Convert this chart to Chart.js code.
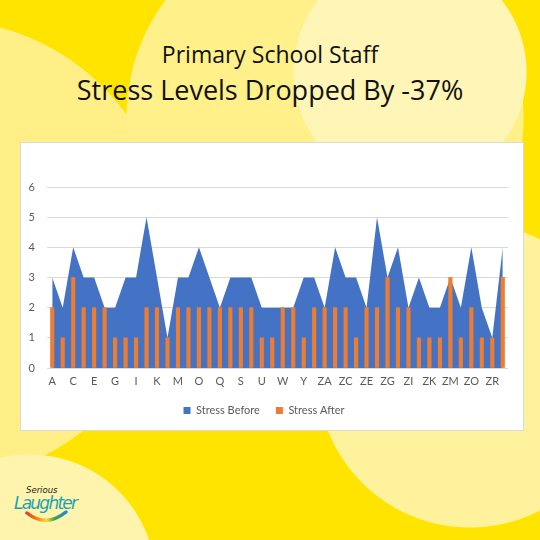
<!DOCTYPE html>
<html>
<head>
<meta charset="utf-8">
<script src="https://cdn.jsdelivr.net/npm/chart.js@4.4.1/dist/chart.umd.min.js"></script>
<style>
  html, body { margin: 0; padding: 0; }
  body { width: 540px; height: 540px; overflow: hidden; position: relative; background: #FFE400; }
  #bg {
    position: absolute; left: 0; top: 0; width: 540px; height: 540px;
    background:
      radial-gradient(circle at 410px 72px, #FFF5B6 0 116px, rgba(255,255,255,0) 117px),
      radial-gradient(circle at 325px 118px, #FFF08A 0 198px, rgba(255,255,255,0) 199px),
      radial-gradient(circle at 30px 580px, #FFF4AE 0 125px, rgba(255,255,255,0) 126px),
      radial-gradient(circle at 470px 375px, #FFF29C 0 152px, rgba(255,255,255,0) 153px),
      radial-gradient(circle at -60px 250px, #FFEF86 0 230px, rgba(255,255,255,0) 231px),
      #FFE400;
  }
  .t1 { position: absolute; left: 0; width: 540px; top: 38px; text-align: center; line-height: normal;
        font-family: "Open Sans", sans-serif; font-size: 23px; color: #111; }
  .t2 { position: absolute; left: 0; width: 540px; top: 71px; text-align: center; line-height: normal;
        font-family: "Open Sans", sans-serif; font-size: 27px; color: #111; }
  #box { position: absolute; left: 20px; top: 142px; width: 502px; height: 287px;
         background: #fff; border: 1px solid #D9D9D9; }
  #wrap { position: absolute; left: 20px; top: 142px; width: 524px; height: 300px; }
  #logo { position: absolute; left: 10px; top: 478px; }
</style>
</head>
<body>
<div id="bg"></div>
<div class="t1">Primary School Staff</div>
<div class="t2">Stress Levels Dropped By -37%</div>
<div id="box"></div>
<div id="wrap"><canvas id="c" width="524" height="300"></canvas></div>
<svg id="logo" width="80" height="50" viewBox="0 0 80 50">
  <defs>
    <linearGradient id="rb" x1="0" x2="1" y1="0" y2="0">
      <stop offset="0" stop-color="#E53935"/>
      <stop offset="0.3" stop-color="#FB8C00"/>
      <stop offset="0.5" stop-color="#FDD835"/>
      <stop offset="0.7" stop-color="#43A047"/>
      <stop offset="1" stop-color="#1E88E5"/>
    </linearGradient>
  </defs>
  <text x="16" y="15" font-family="DejaVu Sans" font-style="italic" font-size="8.5" fill="#1A1A1A">Serious</text>
  <text x="4" y="31" font-family="DejaVu Sans" font-style="italic" font-size="17" fill="#1BA3B5" textLength="64">Laughter</text>
  <path d="M17 35 Q 36 50 56 34" stroke="url(#rb)" stroke-width="3.5" fill="none" stroke-linecap="round"/>
</svg>
<script>
const categories = ["A","B","C","D","E","F","G","H","I","J","K","L","M","N","O","P","Q","R","S","T","U","V","W","X","Y","Z",
  "ZA","ZB","ZC","ZD","ZE","ZF","ZG","ZH","ZI","ZJ","ZK","ZL","ZM","ZN","ZO","ZP","ZR","ZS"];
const stressBefore = [3,2,4,3,3,2,2,3,3,5,3,1,3,3,4,3,2,3,3,3,2,2,2,2,3,3,
  2,4,3,3,2,5,3,4,2,3,2,2,3,2,4,2,1,4];
const stressAfter = [2,1,3,2,2,2,1,1,1,2,2,1,2,2,2,2,2,2,2,2,1,1,2,2,1,2,
  2,2,2,1,2,2,3,2,2,1,1,1,3,1,2,1,1,3];
const yTicks = [0,1,2,3,4,5,6];

const fontFam = "Lato, 'Liberation Sans', sans-serif";
new Chart(document.getElementById('c'), {
  type: 'bar',
  data: {
    labels: categories,
    datasets: [
      { type: 'line', label: 'Stress Before', data: stressBefore, backgroundColor: '#4472C4',
        borderColor: '#4472C4', borderWidth: 0, fill: 'origin', pointRadius: 0, tension: 0, order: 2 },
      { type: 'bar', label: 'Stress After', data: stressAfter, backgroundColor: '#ED7D31',
        barThickness: 3.5, order: 1 }
    ]
  },
  options: {
    responsive: false,
    animation: false,
    layout: { padding: { top: 45, right: 36, left: 0, bottom: 16 } },
    plugins: {
      legend: {
        position: 'bottom',
        labels: {
          boxWidth: 7, boxHeight: 7, padding: 16, color: '#595959',
          font: { family: fontFam, size: 11 },
          sort: (a, b) => a.datasetIndex - b.datasetIndex
        }
      },
      tooltip: { enabled: false }
    },
    scales: {
      x: {
        grid: { display: false, drawTicks: false },
        border: { display: false },
        ticks: {
          autoSkip: false, maxRotation: 0, padding: 7, color: '#595959',
          font: { family: fontFam, size: 11 },
          callback: function(v, i) { return i % 2 === 0 ? categories[i] : ''; }
        },
        afterFit: s => { s.height = 21; }
      },
      y: {
        min: yTicks[0], max: yTicks[yTicks.length - 1],
        border: { display: false },
        grid: { color: '#D9D9D9', drawTicks: false },
        ticks: { stepSize: 1, padding: 12, color: '#595959', font: { family: fontFam, size: 11 } },
        afterFit: s => { s.width = 27; }
      }
    }
  }
});
</script>
</body>
</html>
